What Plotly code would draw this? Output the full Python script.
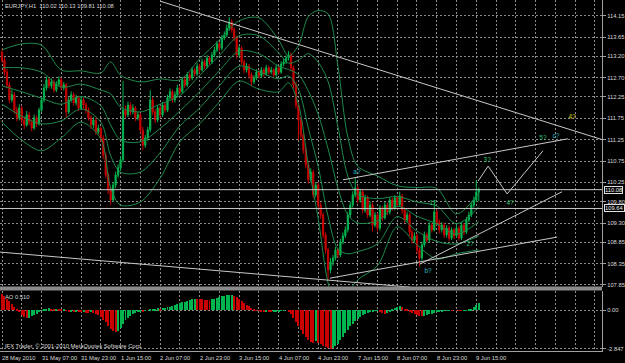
import plotly.graph_objects as go

# ---------------- data ----------------
bar_idx = list(range(194))  # H1 bars, 28 May 2010 15:00 ... 9 Jun 2010 16:00

opens = [113.30, 113.11, 112.83, 112.53, 112.18, 112.30, 111.94, 111.76, 111.99, 111.71,
         111.59, 111.83, 111.66, 111.52, 111.76, 111.62, 111.94, 112.18, 112.46, 112.65,
         112.51, 112.60, 112.41, 112.55, 112.65, 112.46, 112.53, 111.90, 112.18, 112.30,
         112.11, 112.23, 111.99, 112.18, 112.06, 111.94, 111.76, 111.59, 111.71, 111.43,
         111.52, 111.29, 110.89, 110.42, 110.07, 109.84, 110.19, 110.42, 110.59, 110.78,
         111.94, 111.83, 112.06, 111.90, 111.99, 111.76, 111.83, 111.48, 111.12, 111.29,
         111.48, 112.18, 111.90, 111.71, 111.99, 111.83, 112.06, 111.94, 112.23, 112.37,
         112.18, 112.30, 112.46, 112.37, 112.65, 112.53, 112.76, 112.69, 112.88, 112.79,
         112.97, 112.88, 113.07, 112.97, 113.16, 113.07, 113.23, 113.35, 113.49, 113.39,
         113.63, 113.70, 113.86, 114.00, 113.82, 113.63, 113.23, 113.39, 113.07, 112.88,
         112.97, 112.76, 112.60, 112.69, 112.83, 112.74, 112.88, 112.79, 112.93, 112.83,
         112.88, 112.76, 112.93, 112.83, 113.02, 113.07, 113.16, 113.23, 112.93, 112.53,
         112.06, 111.71, 111.36, 111.01, 110.66, 110.31, 110.49, 109.96, 110.19, 109.72,
         109.49, 109.02, 108.67, 108.20, 108.39, 108.48, 108.67, 108.55, 108.86, 109.00,
         109.14, 109.49, 109.72, 109.96, 110.12, 109.84, 110.03, 109.60, 109.89, 109.49,
         109.72, 109.25, 109.49, 109.18, 109.65, 109.42, 109.72, 109.56, 109.84, 109.65,
         109.89, 109.72, 109.93, 109.60, 109.37, 109.49, 109.09, 108.90, 109.00, 108.67,
         108.48, 108.79, 109.02, 108.90, 109.25, 109.14, 109.56, 109.32, 109.14, 109.25,
         109.02, 109.18, 108.95, 109.14, 109.00, 109.18, 108.95, 109.25, 109.09, 109.37,
         109.49, 109.72, 109.84, 110.02]

closes = [113.11, 112.83, 112.53, 112.18, 112.30, 111.94, 111.76, 111.99, 111.71, 111.59,
          111.83, 111.66, 111.52, 111.76, 111.62, 111.94, 112.18, 112.46, 112.65, 112.51,
          112.60, 112.41, 112.55, 112.65, 112.46, 112.53, 111.90, 112.18, 112.30, 112.11,
          112.23, 111.99, 112.18, 112.06, 111.94, 111.76, 111.59, 111.71, 111.43, 111.52,
          111.29, 110.89, 110.42, 110.07, 109.84, 110.19, 110.42, 110.59, 110.78, 111.94,
          111.83, 112.06, 111.90, 111.99, 111.76, 111.83, 111.48, 111.12, 111.29, 111.48,
          112.18, 111.90, 111.71, 111.99, 111.83, 112.06, 111.94, 112.23, 112.37, 112.18,
          112.30, 112.46, 112.37, 112.65, 112.53, 112.76, 112.69, 112.88, 112.79, 112.97,
          112.88, 113.07, 112.97, 113.16, 113.07, 113.23, 113.35, 113.49, 113.39, 113.63,
          113.70, 113.86, 114.00, 113.82, 113.63, 113.23, 113.39, 113.07, 112.88, 112.97,
          112.76, 112.60, 112.69, 112.83, 112.74, 112.88, 112.79, 112.93, 112.83, 112.88,
          112.76, 112.93, 112.83, 113.02, 113.07, 113.16, 113.23, 112.93, 112.53, 112.06,
          111.71, 111.36, 111.01, 110.66, 110.31, 110.49, 109.96, 110.19, 109.72, 109.49,
          109.02, 108.67, 108.20, 108.39, 108.48, 108.67, 108.55, 108.86, 109.00, 109.14,
          109.49, 109.72, 109.96, 110.12, 109.84, 110.03, 109.60, 109.89, 109.49, 109.72,
          109.25, 109.49, 109.18, 109.65, 109.42, 109.72, 109.56, 109.84, 109.65, 109.89,
          109.72, 109.93, 109.60, 109.37, 109.49, 109.09, 108.90, 109.00, 108.67, 108.48,
          108.79, 109.02, 108.90, 109.25, 109.14, 109.56, 109.32, 109.14, 109.25, 109.02,
          109.18, 108.95, 109.14, 109.00, 109.18, 108.95, 109.25, 109.09, 109.37, 109.49,
          109.72, 109.84, 110.02, 110.08]

highs = [113.38, 113.18, 112.90, 112.60, 112.42, 112.36, 112.02, 112.08, 112.05, 111.80,
         111.92, 111.90, 111.72, 111.84, 111.82, 112.00, 112.25, 112.55, 112.72, 112.70,
         112.68, 112.66, 112.62, 112.73, 112.70, 112.60, 112.58, 112.25, 112.38, 112.36,
         112.30, 112.28, 112.25, 112.24, 112.12, 112.00, 111.82, 111.78, 111.76, 111.60,
         111.56, 111.35, 110.95, 110.48, 110.15, 110.26, 110.50, 110.68, 110.86, 112.62,
         112.05, 112.14, 112.12, 112.08, 112.04, 111.90, 111.88, 111.55, 111.36, 111.55,
         112.41, 112.25, 111.96, 112.06, 112.05, 112.13, 112.12, 112.30, 112.45, 112.42,
         112.38, 112.53, 112.52, 112.72, 112.70, 112.83, 112.82, 112.95, 112.93, 113.04,
         113.02, 113.14, 113.12, 113.23, 113.20, 113.30, 113.42, 113.56, 113.54, 113.70,
         113.78, 113.94, 114.12, 114.06, 113.88, 113.68, 113.46, 113.44, 113.12, 113.04,
         113.02, 112.82, 112.76, 112.90, 112.88, 112.95, 112.93, 113.00, 112.98, 112.95,
         112.93, 113.00, 112.98, 113.08, 113.14, 113.22, 113.32, 113.28, 112.98, 112.60,
         112.12, 111.78, 111.42, 111.08, 110.72, 110.58, 110.55, 110.26, 110.25, 109.78,
         109.55, 109.08, 108.72, 108.48, 108.55, 108.74, 108.72, 108.93, 109.08, 109.22,
         109.56, 109.80, 110.04, 110.35, 110.18, 110.10, 110.08, 109.96, 109.94, 109.80,
         109.78, 109.56, 109.54, 109.72, 109.70, 109.79, 109.78, 109.90, 109.89, 109.95,
         109.94, 110.03, 109.98, 109.66, 109.56, 109.54, 109.15, 109.08, 109.05, 108.72,
         108.86, 109.10, 109.08, 109.32, 109.30, 109.84, 109.62, 109.38, 109.32, 109.30,
         109.25, 109.24, 109.20, 109.19, 109.25, 109.23, 109.32, 109.30, 109.44, 109.56,
         109.80, 109.92, 110.30, 110.13]

lows = [113.05, 112.75, 112.45, 112.10, 112.12, 111.85, 111.68, 111.70, 111.62, 111.50,
        111.55, 111.58, 111.45, 111.48, 111.55, 111.58, 111.90, 112.12, 112.40, 112.45,
        112.44, 112.35, 112.36, 112.50, 112.40, 112.40, 111.76, 111.85, 112.12, 112.05,
        112.05, 111.92, 111.94, 111.98, 111.86, 111.70, 111.50, 111.52, 111.36, 111.38,
        111.20, 110.80, 110.35, 109.98, 109.72, 109.80, 110.12, 110.36, 110.52, 110.72,
        111.75, 111.78, 111.82, 111.84, 111.68, 111.70, 111.40, 111.01, 111.06, 111.22,
        111.42, 111.82, 111.64, 111.66, 111.76, 111.78, 111.88, 111.90, 112.18, 112.12,
        112.12, 112.25, 112.30, 112.32, 112.46, 112.48, 112.62, 112.64, 112.72, 112.74,
        112.80, 112.84, 112.90, 112.92, 113.00, 113.02, 113.18, 113.30, 113.32, 113.34,
        113.58, 113.65, 113.80, 113.75, 113.55, 113.15, 113.18, 113.00, 112.80, 112.82,
        112.68, 112.50, 112.55, 112.64, 112.68, 112.70, 112.72, 112.74, 112.77, 112.78,
        112.70, 112.72, 112.77, 112.79, 112.97, 113.02, 113.10, 112.86, 112.45, 111.98,
        111.24, 111.28, 110.92, 110.58, 110.22, 110.25, 109.88, 109.90, 109.62, 109.40,
        108.94, 108.58, 107.97, 108.12, 108.30, 108.42, 108.48, 108.50, 108.80, 108.95,
        109.08, 109.42, 109.66, 109.90, 109.76, 109.78, 109.52, 109.54, 109.42, 109.44,
        109.10, 109.20, 109.10, 109.12, 109.35, 109.38, 109.48, 109.50, 109.58, 109.60,
        109.66, 109.68, 109.52, 109.30, 109.32, 109.00, 108.82, 108.84, 108.58, 108.29,
        108.42, 108.74, 108.84, 108.85, 109.08, 109.10, 109.25, 109.06, 109.08, 108.95,
        108.96, 108.88, 108.90, 108.93, 108.95, 108.88, 108.90, 109.02, 109.04, 109.32,
        109.44, 109.66, 109.78, 109.81]

# Bollinger-type envelope lines, read at sample bars
band_idx = [0, 8, 16, 24, 32, 40, 44, 48, 56, 64, 72, 80, 88, 96, 104, 112, 116, 120,
            124, 128, 132, 136, 140, 144, 152, 160, 168, 176, 184, 193]
band_up2 = [113.35, 113.49, 113.46, 112.88, 112.86, 112.81, 113.07, 112.76, 112.60, 112.67,
            112.65, 113.14, 113.58, 114.03, 114.10, 113.58, 113.21, 113.45, 114.13, 114.27,
            114.19, 112.97, 111.31, 110.63, 110.40, 110.17, 110.13, 110.11, 109.51, 110.00]
band_up1 = [112.93, 112.93, 112.83, 112.48, 112.55, 112.41, 112.32, 112.01, 111.90, 112.08,
            112.28, 112.75, 113.22, 113.68, 113.68, 113.28, 113.04, 113.11, 113.26, 113.06,
            112.61, 111.55, 110.40, 109.97, 109.87, 109.92, 109.79, 109.70, 109.28, 109.68]
band_mid = [112.51, 112.37, 112.22, 112.08, 112.26, 112.04, 111.59, 111.24, 111.20, 111.51,
            111.92, 112.37, 112.86, 113.32, 113.26, 112.97, 112.89, 112.77, 112.39, 111.84,
            111.04, 110.12, 109.49, 109.30, 109.35, 109.69, 109.46, 109.28, 109.04, 109.33]
band_lo1 = [112.08, 111.80, 111.62, 111.69, 111.97, 111.66, 110.87, 110.49, 110.49, 110.94,
            111.57, 111.99, 112.51, 112.97, 112.84, 112.67, 112.74, 112.43, 111.52, 110.62,
            109.46, 108.69, 108.58, 108.63, 108.81, 109.45, 109.11, 108.87, 108.81, 109.00]
band_lo2 = [111.66, 111.24, 110.99, 111.29, 111.66, 111.27, 110.12, 109.72, 109.79, 110.35,
            111.20, 111.62, 112.13, 112.62, 112.43, 112.37, 112.58, 112.08, 110.66, 109.41,
            107.90, 107.27, 107.66, 107.97, 108.30, 109.21, 108.79, 108.46, 108.58, 108.67]

# Awesome Oscillator values
ao = [1.20, 1.05, 0.85, 0.65, 0.45, 0.25,
      0.05, -0.15, -0.35, -0.50, -0.60,
      -0.55, -0.45, -0.35, -0.25, -0.12, -0.03,
      0.05, 0.10, 0.12, 0.10, 0.08, 0.10, 0.06, 0.02, 0.04, -0.05, -0.10, -0.08, -0.12, -0.10,
      -0.12, -0.15, -0.13, -0.18, -0.20, -0.16, -0.22, -0.30, -0.35, -0.50,
      -0.70, -0.90, -1.15, -1.35, -1.50, -1.60, -1.50, -1.30, -1.00, -0.75, -0.55, -0.40, -0.30, -0.20,
      -0.12, -0.08, -0.10, -0.05, 0.00, 0.03, 0.05,
      0.10, 0.12, 0.10, 0.15, 0.18, 0.20, 0.25,
      0.30, 0.38, 0.45, 0.50, 0.58, 0.62, 0.70, 0.75, 0.80, 0.85,
      0.82, 0.80, 0.78, 0.76, 0.75, 0.74,
      0.80, 0.85, 0.92, 0.98, 1.02, 1.05, 1.08, 1.10, 1.12,
      1.05, 0.95, 0.85, 0.70, 0.55, 0.40,
      0.28, 0.15, 0.06, -0.02, -0.06,
      -0.10, -0.12, -0.08, -0.10, -0.15, -0.12, -0.10, -0.08, -0.05, -0.02, 0.00,
      -0.10, -0.30, -0.55, -0.85, -1.15, -1.45, -1.75, -2.00,
      -2.20, -2.35, -2.40, -2.30, -2.40, -2.50, -2.60, -2.72, -2.80, -2.847, -2.80,
      -2.65, -2.45, -2.20, -1.95, -1.70, -1.45, -1.20, -1.00, -0.80, -0.62, -0.48, -0.35,
      -0.25, -0.18, -0.12, -0.08, -0.05, -0.02,
      -0.10, -0.20, -0.25, -0.20,
      -0.10, 0.05, 0.15, 0.25, 0.30,
      0.20, 0.10, 0.02,
      -0.10, -0.20, -0.28, -0.35, -0.40, -0.42, -0.40, -0.35, -0.30,
      -0.25, -0.20, -0.15, -0.10, -0.08, -0.05, -0.03,
      -0.02, -0.03, 0.00, -0.02, -0.04, -0.05, -0.03, -0.01, 0.02,
      0.10, 0.20, 0.35, 0.51]

# hand-drawn objects (bar index, price)
line_top_x, line_top_y = [64.0, 243.0], [114.49, 111.25]
line_chan_x, line_chan_y = [138.0, 229.1], [110.31, 111.27]
zigzag_x, zigzag_y = [192.7, 196.8, 204.5, 219.0], [110.28, 110.63, 109.98, 110.99]
line_a_x, line_a_y = [132.8, 224.7], [108.01, 108.97]
line_b_x, line_b_y = [169.2, 226.7], [108.34, 110.03]
line_low_x, line_low_y = [-0.8, 165.2], [108.62, 107.80]
hlines = [110.08, 109.64]

wave_text = ["a?", "1?", "b?", "2?", "3?", "4?", "5?", "c?", "4?"]
wave_x = [143.7, 174.5, 172.5, 189.5, 196.4, 205.7, 219.0, 224.3, 230.8]
wave_y = [110.49, 109.77, 108.18, 108.79, 110.77, 109.77, 111.29, 111.33, 111.76]
wave_col = ["#20b8c8", "#2ec070", "#20b8c8", "#2ec070", "#2ec070", "#2ec070",
            "#2ec070", "#20b8c8", "#d8d820"]

price_ticks = [114.15, 113.65, 113.20, 112.70, 112.25, 111.75, 111.25, 110.75,
               110.25, 109.80, 109.30, 108.85, 108.35, 107.85]
ao_ticks = [1.412, 0.0, -2.847]
ao_tick_text = ["1.412", "0.00", "-2.847"]
time_tick_idx = [0, 16, 32, 48, 64, 80, 96, 112, 128, 144, 160, 176, 192]
time_tick_text = ["28 May 2010", "31 May 07:00", "31 May 23:00", "1 Jun 15:00",
                  "2 Jun 07:00", "2 Jun 23:00", "3 Jun 15:00", "4 Jun 07:00",
                  "4 Jun 23:00", "7 Jun 15:00", "8 Jun 07:00", "8 Jun 23:00",
                  "9 Jun 15:00"]
grid_idx = list(range(0, 241, 8))

assert len(opens) == len(closes) == len(highs) == len(lows) == len(ao) == len(bar_idx)

# ---------------- styling / layout ----------------
W, H = 625, 363
PR = 602.0           # right edge of plot area in px
MAIN_BOTTOM = 287.0
AO_TOP, AO_BOTTOM = 291.0, 351.0
UP, DN = "#00b450", "#c80000"
BAND = "#1f8a4c"
OBJ = "#c8c8c8"
GRID = "#8c8c8c"
TXT = "#d8d8d8"
FONT = "Liberation Sans"
FS = 5.8


def fy(py):
    return 1 - py / H


fig = go.Figure()

for yy in (band_up2, band_up1, band_mid, band_lo1, band_lo2):
    fig.add_trace(go.Scatter(x=band_idx, y=yy, mode="lines",
                             line=dict(color=BAND, width=1, shape="spline", smoothing=0.9),
                             hoverinfo="skip", showlegend=False))

for hv in hlines:
    fig.add_trace(go.Scatter(x=[-2, 250], y=[hv, hv], mode="lines",
                             line=dict(color=OBJ, width=1), hoverinfo="skip", showlegend=False))

for lx, ly in ((line_top_x, line_top_y), (line_chan_x, line_chan_y), (zigzag_x, zigzag_y),
               (line_a_x, line_a_y), (line_b_x, line_b_y), (line_low_x, line_low_y)):
    fig.add_trace(go.Scatter(x=lx, y=ly, mode="lines", line=dict(color=OBJ, width=1),
                             hoverinfo="skip", showlegend=False))

fig.add_trace(go.Candlestick(
    x=bar_idx, open=opens, high=highs, low=lows, close=closes,
    increasing=dict(line=dict(color=UP, width=1), fillcolor=UP),
    decreasing=dict(line=dict(color=DN, width=1), fillcolor=DN),
    whiskerwidth=0, hoverinfo="skip", showlegend=False))

fig.add_trace(go.Scatter(x=wave_x, y=wave_y, mode="text", text=wave_text,
                         textfont=dict(family=FONT, size=6.5, color=wave_col),
                         hoverinfo="skip", showlegend=False))

ao_colors = [DN] + [UP if ao[i] > ao[i - 1] else DN for i in range(1, len(ao))]
fig.add_trace(go.Bar(x=bar_idx, y=ao, marker=dict(color=ao_colors, line=dict(width=0)),
                     width=0.4, xaxis="x2", yaxis="y2", hoverinfo="skip", showlegend=False))

xr = [-0.81, 242.9]
common_x = dict(range=xr, tickvals=grid_idx, showticklabels=False, showgrid=True,
                gridcolor=GRID, griddash="2px,2px", gridwidth=1, zeroline=False,
                ticks="", fixedrange=True)

fig.update_layout(
    width=W, height=H, margin=dict(l=0, r=0, t=0, b=0),
    paper_bgcolor="black", plot_bgcolor="black", showlegend=False, hovermode=False,
    bargap=0,
    xaxis=dict(domain=[0, PR / W], anchor="y", rangeslider=dict(visible=False),
               showline=False, **common_x),
    xaxis2=dict(domain=[0, PR / W], anchor="y2", matches="x", showline=True,
                linecolor="#a0a0a0", linewidth=1, **common_x),
    yaxis=dict(domain=[fy(MAIN_BOTTOM), 1], range=[107.803, 114.517], side="right",
               tickvals=price_ticks, ticktext=["%.2f" % v for v in price_ticks],
               tickfont=dict(family=FONT, size=FS, color=TXT), ticks="outside",
               ticklen=3, tickcolor="#a0a0a0", showgrid=True, gridcolor=GRID,
               griddash="2px,2px", zeroline=False, showline=True, linecolor="#a0a0a0",
               linewidth=1, mirror=True, fixedrange=True),
    yaxis2=dict(domain=[fy(AO_BOTTOM), fy(AO_TOP)], range=[-3.0, 1.4], side="right",
                anchor="x2", tickvals=ao_ticks, ticktext=ao_tick_text,
                tickfont=dict(family=FONT, size=FS, color=TXT), ticks="outside",
                ticklen=3, tickcolor="#a0a0a0", showgrid=True, gridcolor=GRID,
                griddash="2px,2px", zeroline=False, showline=True, linecolor="#a0a0a0",
                linewidth=1, mirror=True, fixedrange=True),
)

# separator between the two windows
fig.add_shape(type="rect", xref="paper", yref="paper", x0=0, x1=PR / W,
              y0=fy(290.5), y1=fy(286.5), fillcolor="#8a8a8a", line=dict(width=0))

ann = []
for ti, tt in zip(time_tick_idx, time_tick_text):
    ann.append(dict(x=ti, xref="x2", y=fy(357.5), yref="paper", text=tt, showarrow=False,
                    xanchor="left", yanchor="middle", xshift=-2,
                    font=dict(family=FONT, size=FS, color=TXT)))
for pv in hlines:
    ann.append(dict(x=(PR + 1.5) / W, xref="paper", y=pv, yref="y", text="%.2f" % pv,
                    showarrow=False, xanchor="left", yanchor="middle", bgcolor="black",
                    bordercolor="#e0e0e0", borderwidth=1, borderpad=0,
                    font=dict(family=FONT, size=FS, color="#f0f0f0")))
ann.append(dict(x=3 / W, xref="paper", y=fy(6), yref="paper",
                text="EURJPY,H1  110.02 110.13 109.81 110.08", showarrow=False,
                xanchor="left", yanchor="middle", font=dict(family=FONT, size=FS, color=TXT)))
ann.append(dict(x=3 / W, xref="paper", y=fy(296.5), yref="paper", text="AO 0.510",
                showarrow=False, xanchor="left", yanchor="middle",
                font=dict(family=FONT, size=FS, color=TXT)))
ann.append(dict(x=3 / W, xref="paper", y=fy(346), yref="paper",
                text="IFX Trader, © 2001-2010 MetaQuotes Software Corp.", showarrow=False,
                xanchor="left", yanchor="middle", font=dict(family=FONT, size=FS, color=TXT)))
fig.update_layout(annotations=ann)

fig.write_html("out.html")
